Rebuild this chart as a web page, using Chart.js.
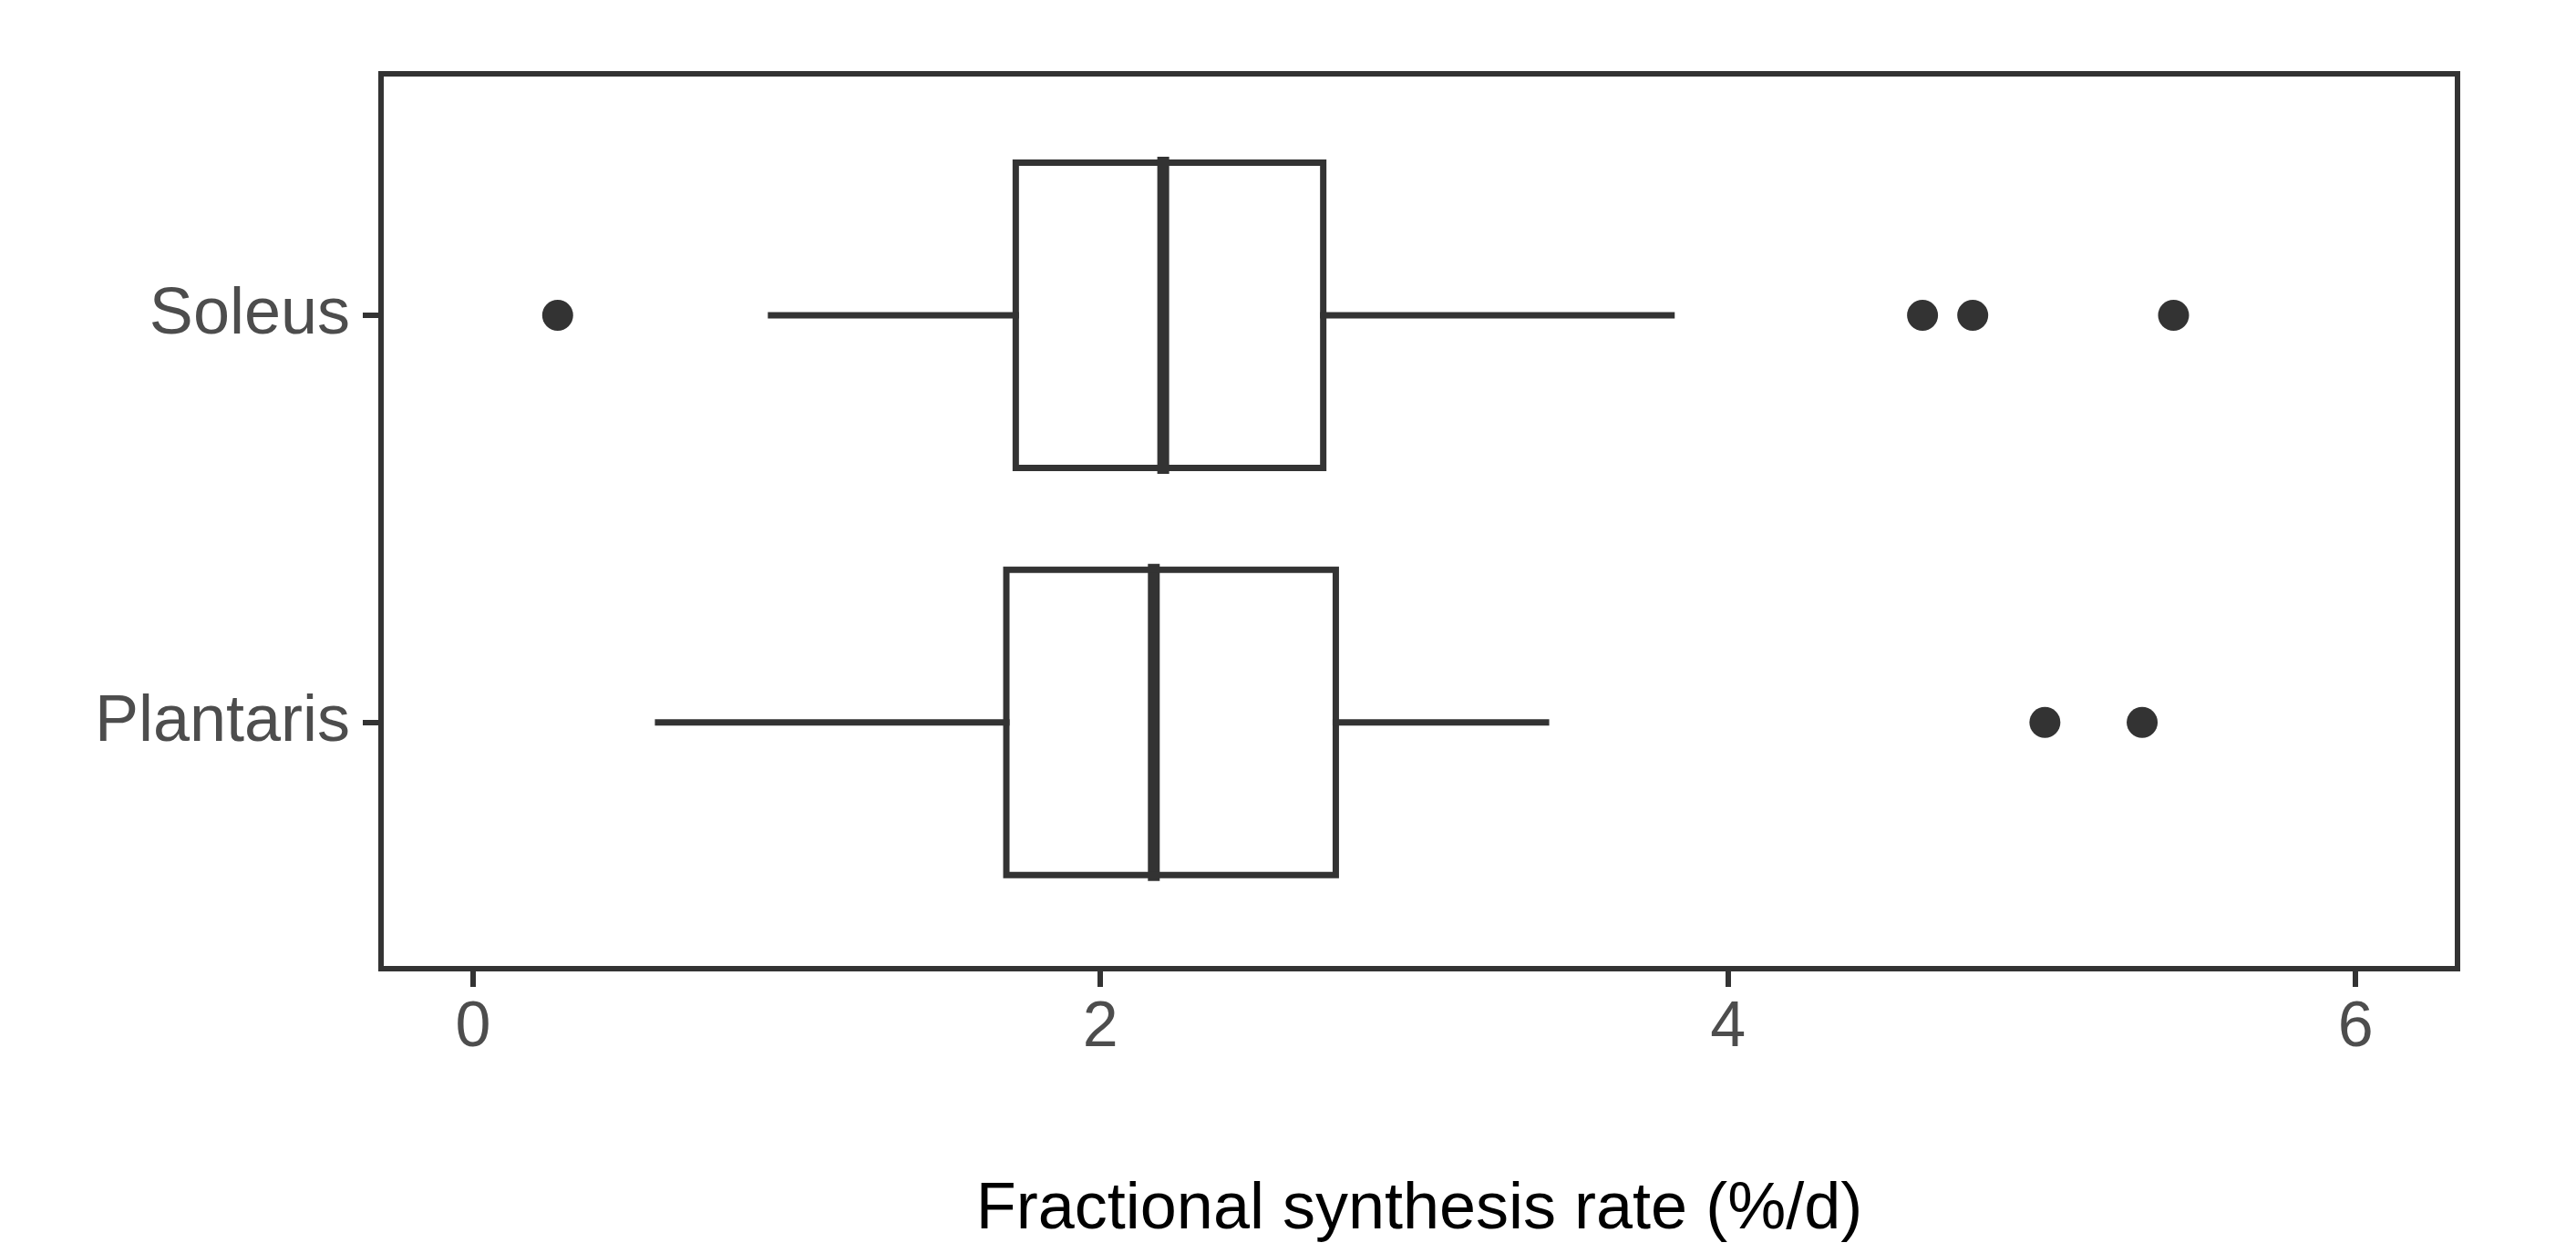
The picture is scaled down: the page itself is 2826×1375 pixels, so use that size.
<!DOCTYPE html>
<html>
<head>
<meta charset="utf-8">
<script src="https://cdn.jsdelivr.net/npm/chart.js@4/dist/chart.umd.min.js"></script>
<style>
  html, body { margin: 0; padding: 0; background: #fff; }
  #wrap { width: 2826px; height: 1375px; }
</style>
</head>
<body>
<div id="wrap"><canvas id="chart"></canvas></div>
<script>
// data
const categories = ["Plantaris", "Soleus"];
const positions = [1, 2];
const whiskerLow = [0.59, 0.95];
const q1 = [1.70, 1.73];
const median = [2.17, 2.20];
const q3 = [2.75, 2.71];
const whiskerHigh = [3.42, 3.82];
const outliers = [[5.01, 5.32], [0.27, 4.62, 4.78, 5.42]];
const xTicks = [0, 2, 4, 6];

const ink = "#333333";
const half = 0.375;

const datasets = [];
categories.forEach((name, i) => {
  const y = positions[i];
  const line = (data, w) => ({
    type: "scatter", data, showLine: true, borderColor: ink, borderWidth: w,
    borderJoinStyle: "miter", borderCapStyle: "square",
    pointRadius: 0, fill: false, tension: 0,
  });
  datasets.push(line([{ x: whiskerLow[i], y }, { x: q1[i], y }], 7));
  datasets.push(line([{ x: q3[i], y }, { x: whiskerHigh[i], y }], 7));
  datasets.push(line([
    { x: q1[i], y: y - half }, { x: q3[i], y: y - half },
    { x: q3[i], y: y + half }, { x: q1[i], y: y + half },
    { x: q1[i], y: y - half },
  ], 7));
  datasets.push(line([{ x: median[i], y: y - half }, { x: median[i], y: y + half }], 13));
  datasets.push({
    type: "scatter",
    data: outliers[i].map((v) => ({ x: v, y })),
    pointRadius: 17, pointBackgroundColor: ink, pointBorderWidth: 0,
  });
});

const frame = {
  id: "frame",
  afterDraw(chart) {
    const { ctx, chartArea: a } = chart;
    ctx.save();
    ctx.strokeStyle = ink;
    ctx.lineWidth = 6;
    ctx.strokeRect(a.left, a.top, a.right - a.left, a.bottom - a.top);
    ctx.restore();
  },
};

new Chart(document.getElementById("chart"), {
  data: { datasets },
  plugins: [frame],
  options: {
    responsive: true,
    maintainAspectRatio: false,
    animation: false,
    layout: { padding: { top: 81, right: 130, left: 0, bottom: 0 } },
    plugins: { legend: { display: false }, tooltip: { enabled: false } },
    scales: {
      x: {
        type: "linear", min: -0.293, max: 6.325,
        afterBuildTicks: (s) => { s.ticks = xTicks.map((v) => ({ value: v })); },
        afterFit: (s) => { s.height = 312; },
        grid: { drawOnChartArea: false, color: ink, lineWidth: 6, tickLength: 20 },
        border: { color: ink, width: 6 },
        ticks: { color: "#4d4d4d", font: { family: "Liberation Sans", size: 70 }, padding: 4 },
        title: {
          display: true, text: "Fractional synthesis rate (%/d)", color: "#000",
          font: { family: "Liberation Sans", size: 72 }, padding: { top: 40 },
        },
      },
      y: {
        type: "linear", min: 0.395, max: 2.593,
        afterBuildTicks: (s) => { s.ticks = positions.map((v) => ({ value: v })); },
        afterFit: (s) => { s.width = 418; },
        grid: { drawOnChartArea: false, color: ink, lineWidth: 6, tickLength: 20 },
        border: { color: ink, width: 6 },
        ticks: {
          color: "#4d4d4d", font: { family: "Liberation Sans", size: 72 }, padding: 14,
          callback: (v) => categories[positions.indexOf(v)] || "",
        },
      },
    },
  },
});
</script>
</body>
</html>
